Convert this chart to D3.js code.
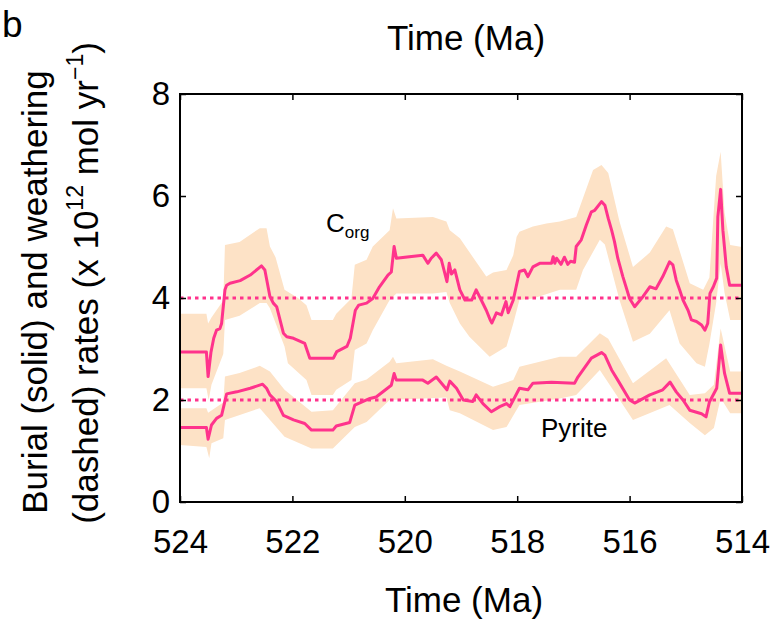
<!DOCTYPE html>
<html>
<head>
<meta charset="utf-8">
<script src="https://cdn.jsdelivr.net/npm/d3@7"></script>
<style>
    body { margin: 0; background: #fff; }
    svg text { font-family: "Liberation Sans", Arial, Helvetica, sans-serif; fill: #000; }
</style>
</head>
<body>
<div id="chart"></div>
<script>
// Corg burial (solid line)
var corgTime = [524.00, 523.53, 523.50, 523.45, 523.40, 523.35, 523.29, 523.26, 523.20, 523.17, 523.11, 522.93, 522.75, 522.55, 522.49, 522.40, 522.34, 522.28, 522.22, 522.16, 522.10, 521.98, 521.78, 521.69, 521.27, 521.21, 521.03, 520.97, 520.88, 520.82, 520.68, 520.57, 520.45, 520.30, 520.24, 520.19, 520.15, 519.68, 519.59, 519.53, 519.44, 519.35, 519.25, 519.21, 519.17, 519.11, 519.02, 518.93, 518.81, 518.73, 518.64, 518.55, 518.48, 518.45, 518.37, 518.28, 518.20, 518.16, 518.07, 517.96, 517.87, 517.81, 517.72, 517.60, 517.39, 517.36, 517.33, 517.30, 517.22, 517.16, 517.10, 517.05, 516.98, 516.95, 516.86, 516.77, 516.68, 516.62, 516.50, 516.44, 516.38, 516.32, 516.27, 516.21, 516.12, 516.00, 515.91, 515.76, 515.64, 515.53, 515.41, 515.29, 515.23, 515.17, 515.11, 515.05, 514.96, 514.90, 514.81, 514.72, 514.66, 514.61, 514.57, 514.51, 514.45, 514.43, 514.38, 514.34, 514.28, 514.22, 514.00];
var corgBurial = [2.94, 2.94, 2.46, 2.93, 3.21, 3.37, 3.40, 3.50, 4.16, 4.25, 4.29, 4.34, 4.45, 4.63, 4.55, 4.03, 3.90, 3.83, 3.57, 3.31, 3.24, 3.21, 3.11, 2.82, 2.82, 2.95, 3.05, 3.21, 3.76, 3.86, 3.90, 3.99, 4.22, 4.45, 4.51, 5.01, 4.78, 4.84, 4.68, 4.78, 4.88, 4.75, 4.32, 4.68, 4.47, 4.55, 4.16, 3.96, 3.96, 4.16, 3.96, 3.76, 3.57, 3.51, 3.71, 3.67, 3.93, 3.71, 3.96, 4.52, 4.55, 4.42, 4.61, 4.68, 4.68, 4.81, 4.68, 4.78, 4.66, 4.80, 4.66, 4.72, 4.70, 5.01, 5.14, 5.43, 5.69, 5.72, 5.89, 5.82, 5.56, 5.33, 5.11, 4.78, 4.42, 3.99, 3.83, 4.03, 4.22, 4.18, 4.42, 4.71, 4.65, 4.35, 4.16, 3.96, 3.76, 3.57, 3.54, 3.47, 3.37, 3.50, 4.09, 4.22, 4.39, 5.59, 6.13, 5.33, 4.61, 4.25, 4.25];

// Corg uncertainty envelope
var corgUpTime = [524.00, 523.53, 523.50, 523.44, 523.23, 523.20, 522.94, 522.58, 522.46, 522.40, 522.30, 522.14, 521.90, 521.75, 521.66, 521.28, 521.22, 520.95, 520.89, 520.68, 520.57, 520.27, 520.21, 520.15, 519.50, 519.26, 519.20, 519.02, 518.55, 518.43, 518.19, 518.07, 518.01, 517.96, 517.72, 517.48, 517.24, 516.95, 516.65, 516.50, 516.38, 516.18, 515.94, 515.64, 515.35, 515.23, 514.93, 514.69, 514.58, 514.46, 514.38, 514.31, 514.21, 514.00];
var corgUp = [3.69, 3.69, 3.50, 3.62, 3.95, 5.04, 5.10, 5.37, 5.37, 5.01, 4.80, 4.16, 4.00, 3.86, 3.57, 3.57, 3.69, 3.99, 4.65, 4.75, 5.01, 5.33, 5.76, 5.56, 5.59, 5.50, 5.33, 5.17, 4.42, 4.50, 4.55, 4.84, 5.20, 5.30, 5.40, 5.46, 5.50, 5.59, 6.51, 6.61, 6.45, 5.50, 4.61, 4.89, 5.40, 5.35, 4.29, 4.16, 4.40, 6.39, 6.87, 5.67, 5.04, 5.00];
var corgLoTime = [524.00, 523.53, 523.49, 523.44, 523.23, 523.20, 522.94, 522.58, 522.46, 522.40, 522.14, 522.08, 521.75, 521.66, 521.28, 521.22, 520.95, 520.89, 520.68, 520.57, 520.27, 520.15, 519.50, 519.26, 519.20, 519.02, 518.85, 518.49, 518.19, 518.07, 517.96, 517.72, 517.24, 516.95, 516.83, 516.53, 516.44, 516.18, 515.94, 515.64, 515.29, 515.11, 514.81, 514.66, 514.58, 514.46, 514.38, 514.31, 514.21, 514.00];
var corgLo = [2.23, 2.23, 2.00, 2.30, 2.90, 3.57, 3.65, 3.90, 3.90, 3.80, 3.05, 2.72, 2.39, 2.10, 2.10, 2.20, 2.39, 2.98, 3.11, 3.37, 3.96, 4.09, 4.09, 4.12, 3.90, 3.50, 3.24, 2.85, 3.05, 3.50, 3.96, 3.99, 4.16, 4.16, 4.55, 5.14, 5.05, 3.96, 3.14, 3.30, 3.76, 3.11, 2.72, 2.65, 3.10, 3.90, 4.68, 4.10, 3.57, 3.57];

// Pyrite burial (solid line)
var pyrTime = [524.00, 523.53, 523.50, 523.44, 523.35, 523.26, 523.17, 522.99, 522.75, 522.53, 522.46, 522.40, 522.28, 522.16, 522.10, 521.98, 521.78, 521.66, 521.28, 521.22, 520.98, 520.89, 520.77, 520.62, 520.51, 520.24, 520.19, 520.15, 519.68, 519.59, 519.44, 519.25, 519.20, 519.08, 518.96, 518.79, 518.73, 518.61, 518.46, 518.31, 518.19, 518.13, 517.96, 517.81, 517.72, 517.39, 516.98, 516.92, 516.68, 516.50, 516.44, 516.32, 516.21, 516.00, 515.91, 515.64, 515.41, 515.28, 515.17, 515.05, 514.93, 514.72, 514.64, 514.58, 514.45, 514.38, 514.31, 514.22, 514.00];
var pyrBurial = [1.46, 1.46, 1.23, 1.51, 1.64, 1.70, 2.12, 2.16, 2.23, 2.31, 2.23, 2.10, 1.97, 1.70, 1.67, 1.61, 1.54, 1.41, 1.41, 1.49, 1.56, 1.90, 1.96, 2.03, 2.06, 2.29, 2.52, 2.39, 2.39, 2.33, 2.45, 2.20, 2.37, 2.23, 2.00, 1.97, 2.10, 1.93, 1.77, 1.87, 1.93, 1.87, 2.23, 2.20, 2.33, 2.35, 2.33, 2.45, 2.82, 2.93, 2.88, 2.59, 2.39, 2.00, 1.94, 2.10, 2.20, 2.35, 2.16, 2.00, 1.80, 1.73, 1.67, 1.96, 2.23, 3.08, 2.52, 2.13, 2.13];

// Pyrite uncertainty envelope
var pyrUpTime = [524.00, 523.53, 523.50, 523.23, 523.20, 522.94, 522.58, 522.40, 522.14, 521.66, 521.28, 520.89, 520.68, 520.27, 520.21, 520.15, 519.50, 519.26, 519.02, 518.43, 518.07, 517.96, 517.24, 516.95, 516.53, 516.38, 515.94, 515.35, 514.93, 514.66, 514.50, 514.38, 514.21, 514.00];
var pyrUp = [1.84, 1.84, 1.75, 1.95, 2.46, 2.53, 2.67, 2.56, 2.20, 1.77, 1.80, 2.33, 2.40, 2.75, 2.85, 2.72, 2.80, 2.67, 2.56, 2.26, 2.39, 2.65, 2.85, 2.85, 3.31, 3.20, 2.33, 2.82, 2.10, 2.13, 2.30, 3.40, 2.56, 2.56];
var pyrLoTime = [524.00, 523.53, 523.48, 523.44, 523.23, 523.20, 522.58, 522.14, 521.66, 521.28, 520.89, 520.68, 520.27, 519.26, 519.20, 519.02, 518.43, 518.19, 517.96, 517.24, 516.95, 516.53, 515.94, 515.29, 514.93, 514.66, 514.50, 514.38, 514.21, 514.00];
var pyrLo = [1.12, 1.08, 0.86, 1.15, 1.25, 1.61, 1.84, 1.28, 1.05, 1.05, 1.47, 1.57, 2.00, 2.05, 1.80, 1.74, 1.41, 1.47, 1.90, 2.03, 2.10, 2.59, 1.61, 1.90, 1.55, 1.31, 1.45, 2.04, 1.74, 1.74];

// weathering rates (dashed)
var weatheringRates = [4, 2];

var xTicks = [524, 522, 520, 518, 516, 514];
var yTicks = [0, 2, 4, 6, 8];

function init() {
    var w = 774;
    var h = 619;
    var left = 180, right = 742, top = 94, bottom = 502;
    var lineColor = "#ff338c";
    var bandColor = "#fde2c6";

    var svg = d3.select("#chart")
        .append("svg")
        .attr("width", w)
        .attr("height", h);

    var xScale = d3.scaleLinear()
        .domain([524, 514])
        .range([left, right]);

    var yScale = d3.scaleLinear()
        .domain([0, 8])
        .range([bottom, top]);

    var line = d3.line()
        .x(function (d) { return xScale(d[0]); })
        .y(function (d) { return yScale(d[1]); });

    function pairs(t, v) {
        return t.map(function (d, i) { return [d, v[i]]; });
    }

    function band(upT, up, loT, lo) {
        return pairs(upT, up).concat(pairs(loT, lo).reverse());
    }

    // envelopes
    svg.selectAll(".band")
        .data([band(corgUpTime, corgUp, corgLoTime, corgLo), band(pyrUpTime, pyrUp, pyrLoTime, pyrLo)])
        .enter()
        .append("path")
        .attr("class", "band")
        .attr("d", function (d) { return line(d) + "Z"; })
        .attr("fill", bandColor)
        .attr("stroke", "none");

    // weathering (dotted)
    svg.selectAll(".weather")
        .data(weatheringRates)
        .enter()
        .append("line")
        .attr("class", "weather")
        .attr("x1", xScale(524))
        .attr("x2", xScale(514))
        .attr("y1", function (d) { return yScale(d); })
        .attr("y2", function (d) { return yScale(d); })
        .attr("stroke", lineColor)
        .attr("stroke-width", 3)
        .attr("stroke-dasharray", "3.5,4");

    // burial (solid)
    svg.selectAll(".burial")
        .data([pairs(corgTime, corgBurial), pairs(pyrTime, pyrBurial)])
        .enter()
        .append("path")
        .attr("class", "burial")
        .attr("d", line)
        .attr("fill", "none")
        .attr("stroke", lineColor)
        .attr("stroke-width", 3)
        .attr("stroke-linejoin", "round");

    // axes, ticks inward
    svg.append("g")
        .attr("transform", "translate(0," + bottom + ")")
        .call(d3.axisBottom(xScale).tickValues(xTicks).tickSize(-6).tickSizeOuter(0).tickPadding(28));
    svg.append("g")
        .attr("transform", "translate(0," + top + ")")
        .call(d3.axisTop(xScale).tickValues(xTicks).tickSize(-6).tickSizeOuter(0).tickFormat(""));
    svg.append("g")
        .attr("transform", "translate(" + left + ",0)")
        .call(d3.axisLeft(yScale).tickValues(yTicks).tickSize(-6).tickSizeOuter(0).tickPadding(10));
    svg.append("g")
        .attr("transform", "translate(" + right + ",0)")
        .call(d3.axisRight(yScale).tickValues(yTicks).tickSize(-6).tickSizeOuter(0).tickFormat(""));

    svg.selectAll(".domain").remove();
    svg.selectAll(".tick line").attr("stroke", "#000").attr("stroke-width", 1.5);
    svg.selectAll(".tick text")
        .style("font-family", "'Liberation Sans', Arial, sans-serif")
        .style("font-size", "33px")
        .attr("fill", "#000");

    svg.append("rect")
        .attr("x", left)
        .attr("y", top)
        .attr("width", right - left)
        .attr("height", bottom - top)
        .attr("fill", "none")
        .attr("stroke", "#000")
        .attr("stroke-width", 2);

    // titles
    svg.append("text")
        .attr("x", 2)
        .attr("y", 37)
        .style("font-size", "37px")
        .text("b");

    svg.append("text")
        .attr("x", 466)
        .attr("y", 50)
        .attr("text-anchor", "middle")
        .style("font-size", "35px")
        .text("Time (Ma)");

    svg.append("text")
        .attr("x", 464)
        .attr("y", 612)
        .attr("text-anchor", "middle")
        .style("font-size", "35px")
        .text("Time (Ma)");

    svg.append("text")
        .attr("transform", "translate(47,292) rotate(-90)")
        .attr("text-anchor", "middle")
        .style("font-size", "35px")
        .text("Burial (solid) and weathering");

    var yl2 = svg.append("text")
        .attr("transform", "translate(98,283) rotate(-90)")
        .attr("text-anchor", "middle")
        .style("font-size", "35px");
    yl2.append("tspan").text("(dashed) rates (x 10");
    yl2.append("tspan").attr("dy", -15).style("font-size", "23px").text("12");
    yl2.append("tspan").attr("dy", 15).text(" mol yr");
    yl2.append("tspan").attr("dy", -15).style("font-size", "23px").text("\u22121");
    yl2.append("tspan").attr("dy", 15).text(")");

    // series labels
    var corgLabel = svg.append("text")
        .attr("x", 326)
        .attr("y", 232)
        .style("font-size", "26px");
    corgLabel.append("tspan").text("C");
    corgLabel.append("tspan").attr("dy", 6).style("font-size", "17px").text("org");

    svg.append("text")
        .attr("x", 541)
        .attr("y", 437)
        .style("font-size", "26px")
        .text("Pyrite");
}

window.onload = init;
</script>
</body>
</html>
